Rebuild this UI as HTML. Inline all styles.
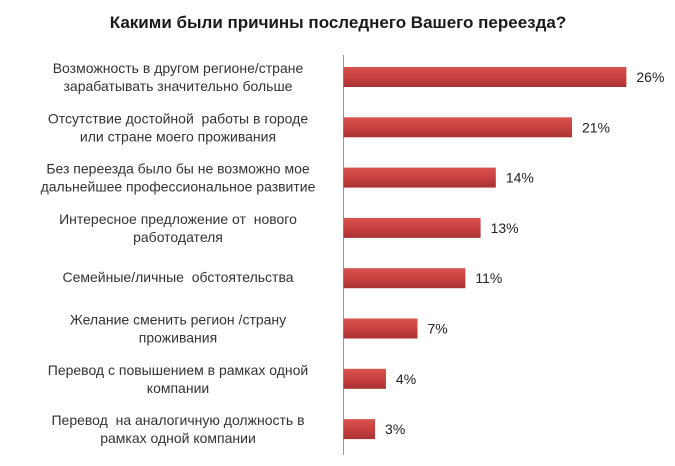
<!DOCTYPE html>
<html><head><meta charset="utf-8"><style>
body{margin:0;background:#fff;width:675px;height:461px;overflow:hidden;font-family:"Liberation Sans",sans-serif}
</style></head><body>
<svg width="675" height="461">
<defs><linearGradient id="g" x1="0" y1="0" x2="0" y2="1"><stop offset="0" stop-color="#d9534f"/><stop offset="0.5" stop-color="#c94040"/><stop offset="1" stop-color="#a83232"/></linearGradient></defs>
<text x="338" y="28" text-anchor="middle" font-size="17" font-weight="bold" fill="#1a1a1a">Какими были причины последнего Вашего переезда?</text>
<line x1="343.5" y1="55" x2="343.5" y2="455" stroke="#999"/>
<g id="bars"></g>
</svg>
<script>
const categories=[["Возможность в другом регионе/стране","зарабатывать значительно больше"],["Отсутствие достойной  работы в городе","или стране моего проживания"],["Без переезда было бы не возможно мое","дальнейшее профессиональное развитие"],["Интересное предложение от  нового","работодателя"],["Семейные/личные  обстоятельства"],["Желание сменить регион /страну","проживания"],["Перевод с повышением в рамках одной","компании"],["Перевод  на аналогичную должность в","рамках одной компании"]];
const values=[26,21,14,12.6,11.2,6.8,3.9,2.9];
const valueLabels=["26%","21%","14%","13%","11%","7%","4%","3%"];
const ns="http://www.w3.org/2000/svg";
const g=document.getElementById('bars');
const x0=343.5,pxPer=10.88,y0=67,step=50.3,bh=20;
const xs=v=>x0+v*pxPer, ys=i=>y0+i*step;
values.forEach((v,i)=>{
 const r=document.createElementNS(ns,'rect');
 r.setAttribute('x',x0);r.setAttribute('y',ys(i));r.setAttribute('width',xs(v)-x0);r.setAttribute('height',bh);r.setAttribute('fill','url(#g)');
 
 
 g.appendChild(r);
 const t=document.createElementNS(ns,'text');
 t.setAttribute('x',xs(v)+10);t.setAttribute('y',ys(i)+bh/2+5);t.setAttribute('font-size','14');t.setAttribute('fill','#222');
 t.textContent=valueLabels[i];
 
 
 g.appendChild(t);
 const lines=categories[i];
 const c=ys(i)+bh/2;
 lines.forEach((ln,j)=>{
  const l=document.createElementNS(ns,'text');
  const off=(j-(lines.length-1)/2)*18;
  l.setAttribute('x',178);l.setAttribute('y',c+off+(lines.length>1?0:-1)+5);
  l.setAttribute('text-anchor','middle');l.setAttribute('font-size','14');l.setAttribute('fill','#333');
  l.setAttribute('xml:space','preserve');l.style.whiteSpace='pre';
  l.textContent=ln;
  
  
  g.appendChild(l);
 });
});
</script>
</body></html>
